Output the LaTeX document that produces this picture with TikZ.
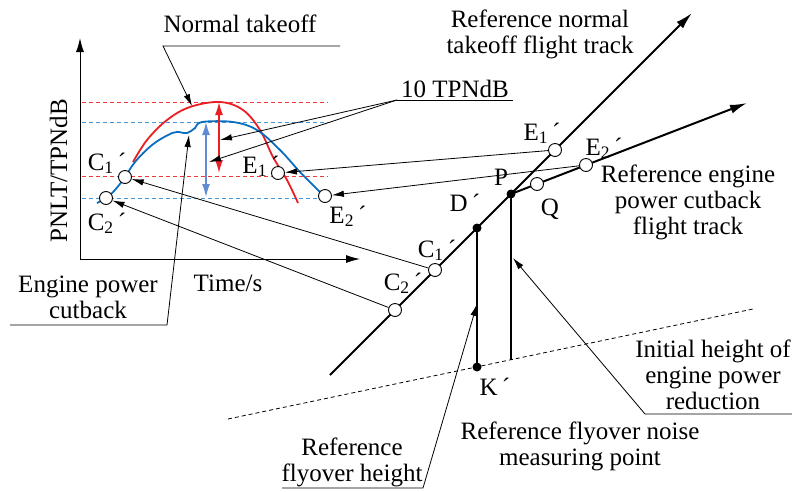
\documentclass[tikz,border=0pt]{standalone}
\usepackage{fontspec}
\setmainfont{Liberation Serif}
\usetikzlibrary{arrows.meta,calc}
\definecolor{curvered}{RGB}{235,30,35}
\definecolor{curveblue}{RGB}{10,110,190}
\definecolor{lvlred}{RGB}{235,60,60}
\definecolor{lvlblue}{RGB}{70,150,215}
\definecolor{arrblue}{RGB}{95,140,210}
\tikzset{
  opencirc/.style={circle,draw=black,fill=white,line width=0.9pt,minimum size=13pt,inner sep=0pt},
  blackdot/.style={circle,fill=black,minimum size=9pt,inner sep=0pt},
  leader/.style={line width=0.8pt,-{Latex[length=12pt,width=6.5pt]}},
  plainline/.style={line width=0.8pt},
  track/.style={line width=2pt,-{Latex[length=17pt,width=9pt]}},
  level/.style={line width=0.8pt,dash pattern=on 4pt off 3pt},
  dblarrow/.style={line width=1.4pt,{Latex[length=13pt,width=8pt]}-{Latex[length=13pt,width=8pt]}},
  axisline/.style={line width=1pt,-{Latex[length=14pt,width=8pt]}}
}
\begin{document}
\begin{tikzpicture}[x=1pt,y=-1pt,font=\fontsize{25}{26}\selectfont]
\useasboundingbox (0,0) rectangle (792,491);

% the PNLT-time graph
\coordinate (orig) at (80,259);
\coordinate (ytop) at (80,38);
\coordinate (xend) at (360,259);
\draw[axisline] (orig) -- (ytop);
\draw[axisline] (orig) -- (xend);
\node[rotate=90,anchor=base] (ylab) at (67,171) {PNLT/TPNdB};
\node[anchor=base] (xlab) at (228,291) {Time/s};

\draw[level,lvlred] (82,102) -- (328,102);
\draw[level,lvlblue] (82,122) -- (330,122);
\draw[level,lvlred] (82,176) -- (328,176);
\draw[level,lvlblue] (82,198) -- (330,198);

\draw[curvered,line width=1.8pt] plot[smooth,tension=0.6] coordinates {(133,162) (147,140) (167,120) (190,107) (220,102) (243,110) (260,130) (273,157) (287,180) (298,203)};
\draw[curveblue,line width=1.8pt] plot[smooth,tension=0.6] coordinates {(97,203) (110,195) (123,180) (135,162) (152,145) (168,135) (177,132) (187,133) (195,128) (202,122) (233,122) (257,130) (280,150) (300,172) (320,192)};

\draw[dblarrow,curvered] (219,102) -- (219,173);
\draw[dblarrow,arrblue] (206,122) -- (206,197);

\node[opencirc] (gC1) at (125,177) {};
\node[opencirc] (gC2) at (106,198) {};
\node[opencirc] (gE1) at (278,173) {};
\node[opencirc] (gE2) at (325,196) {};
\node[anchor=base] (lgC1) at (107,170) {C\textsubscript{1}\,´};
\node[anchor=base] (lgC2) at (107,230) {C\textsubscript{2}\,´};
\node[anchor=base] (lgE1) at (261,173) {E\textsubscript{1}\,´};
\node[anchor=base] (lgE2) at (348,223) {E\textsubscript{2}\,´};

% flight tracks and ground
\coordinate (trkS) at (330,375);
\coordinate (trkE) at (692,13);
\coordinate (cutE) at (747,103);
\coordinate (gndS) at (228,419);
\coordinate (gndE) at (753,309);
\coordinate (Pft) at (511,360);
\draw[track] (trkS) -- (trkE);
\draw[track] (511,194) -- (cutE);
\draw[level,black] (gndS) -- (gndE);
\draw[line width=1.2pt] (511,194) -- (Pft);
\draw[line width=1.2pt] (477,228) -- (477,367);

\node[blackdot] (P) at (511,194) {};
\node[blackdot] (D) at (477,228) {};
\node[blackdot] (K) at (477,367) {};
\node[opencirc] (tC2) at (395,310) {};
\node[opencirc] (tC1) at (435,270) {};
\node[opencirc] (tE1) at (555,150) {};
\node[opencirc] (Q) at (537,184) {};
\node[opencirc] (tE2) at (586,165) {};
\node[anchor=base] (lP) at (501,185) {P};
\node[anchor=base] (lD) at (465,211) {D\,´};
\node[anchor=base] (lQ) at (550,215) {Q};
\node[anchor=base] (lK) at (495,395) {K\,´};
\node[anchor=base] (ltC1) at (437,257) {C\textsubscript{1}\,´};
\node[anchor=base] (ltC2) at (403,290) {C\textsubscript{2}\,´};
\node[anchor=base] (ltE1) at (542,140) {E\textsubscript{1}\,´};
\node[anchor=base] (ltE2) at (604,155) {E\textsubscript{2}\,´};

% from the track to the graph
\draw[leader] (tE1) -- (gE1);
\draw[leader] (tE2) -- (gE2);
\draw[leader] (tC1) -- (gC1);
\draw[leader] (tC2) -- (gC2);

% labels and leaders
\node[anchor=base] (ntlab) at (240,32) {Normal takeoff};
\coordinate (nt1) at (340,46);
\coordinate (nt2) at (163,46);
\coordinate (nt3) at (192,106);
\draw[leader] (nt1) -- (nt2) -- (nt3);

\node[anchor=base] (tplab) at (455,97) {10 TPNdB};
\coordinate (tp1) at (513,100);
\coordinate (tp2) at (397,100);
\coordinate (tpa) at (220,140);
\coordinate (tpb) at (209,162);
\draw[plainline] (tp1) -- (tp2);
\draw[leader] (tp2) -- (tpa);
\draw[leader] (tp2) -- (tpb);

\node[align=center] (eclab) at (88,297) {Engine power\\cutback};
\coordinate (ec1) at (10,325);
\coordinate (ec2) at (167,325);
\coordinate (ec3) at (189,135);
\draw[leader] (ec1) -- (ec2) -- (ec3);

\node[align=center] (ntrk) at (540,34) {Reference normal\\takeoff flight track};
\node[align=center] (ctrk) at (688,202) {Reference engine\\power cutback\\flight track};

\node[align=center] (ihlab) at (713,375) {Initial height of\\engine power\\reduction};
\coordinate (ih1) at (792,414);
\coordinate (ih2) at (645,414);
\coordinate (ih3) at (513,258);
\draw[leader] (ih1) -- (ih2) -- (ih3);

\node[align=center] (mplab) at (580,446) {Reference flyover noise\\measuring point};

\node[align=center] (fhlab) at (352,462) {Reference\\flyover height};
\coordinate (fh1) at (282,488);
\coordinate (fh2) at (423,488);
\coordinate (fh3) at (477,304);
\draw[leader] (fh1) -- (fh2) -- (fh3);
\end{tikzpicture}
\end{document}
